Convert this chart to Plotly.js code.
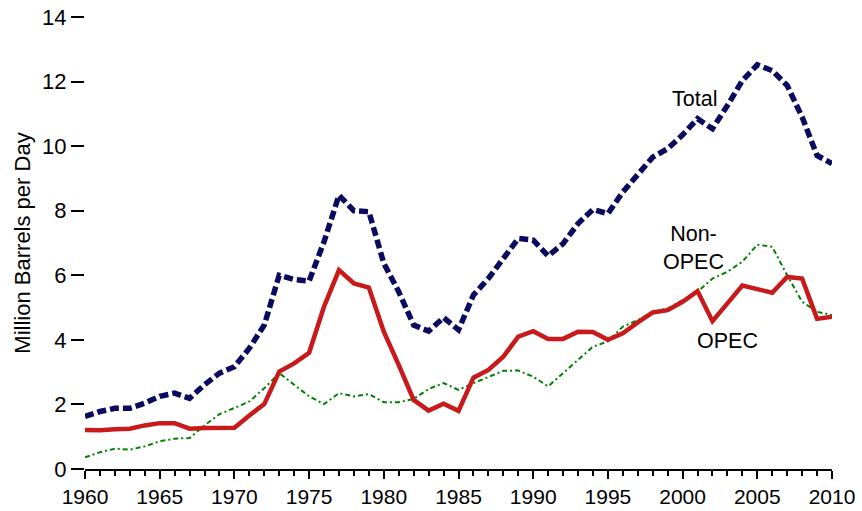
<!DOCTYPE html>
<html>
<head>
<meta charset="utf-8">
<script src="https://cdn.plot.ly/plotly-3.0.1.min.js"></script>
<style>html,body{margin:0;padding:0;background:#fff;}#chart{width:862px;height:511px;}</style>
</head>
<body>
<div id="chart"></div>
<script>
const years = [1960,1961,1962,1963,1964,1965,1966,1967,1968,1969,1970,1971,1972,1973,1974,1975,1976,1977,1978,1979,1980,1981,1982,1983,1984,1985,1986,1987,1988,1989,1990,1991,1992,1993,1994,1995,1996,1997,1998,1999,2000,2001,2002,2003,2004,2005,2006,2007,2008,2009,2010];
const opec = [1.21,1.20,1.23,1.25,1.35,1.42,1.42,1.25,1.27,1.28,1.28,1.66,2.01,3.02,3.27,3.60,5.03,6.16,5.75,5.62,4.25,3.22,2.14,1.81,2.02,1.80,2.83,3.07,3.48,4.10,4.27,4.03,4.03,4.25,4.24,4.00,4.20,4.54,4.85,4.92,5.18,5.51,4.58,5.13,5.68,5.57,5.46,5.95,5.90,4.65,4.72];
const nonOpec = [0.36,0.52,0.63,0.60,0.70,0.86,0.94,0.96,1.35,1.70,1.89,2.09,2.50,2.97,2.61,2.25,2.01,2.35,2.25,2.32,2.07,2.07,2.17,2.48,2.66,2.45,2.66,2.86,3.04,3.05,2.86,2.56,2.97,3.38,3.79,3.95,4.41,4.61,4.87,4.97,5.23,5.49,5.90,6.11,6.42,6.95,6.88,6.00,5.18,4.87,4.77];
const total = [1.63,1.78,1.88,1.88,2.04,2.25,2.35,2.19,2.61,2.97,3.17,3.74,4.46,6.00,5.87,5.82,7.04,8.48,8.00,7.97,6.37,5.49,4.46,4.27,4.69,4.31,5.39,5.90,6.52,7.14,7.09,6.60,6.98,7.60,8.04,7.91,8.58,9.15,9.66,9.92,10.35,10.85,10.54,11.26,12.03,12.52,12.34,11.88,10.90,9.71,9.46];
const xTicks = [1960,1965,1970,1975,1980,1985,1990,1995,2000,2005,2010];
const yTicks = [0,2,4,6,8,10,12,14];

const font = "Liberation Sans, Arial, sans-serif";
const traces = [
  {x: years, y: nonOpec, mode: 'lines', name: 'Non-OPEC',
   line: {color: '#008000', width: 2, dash: '5px,3px,2px,3px'}},
  {x: years, y: opec, mode: 'lines', name: 'OPEC',
   line: {color: '#c81a1a', width: 4.5}},
  {x: years, y: total, mode: 'lines', name: 'Total',
   line: {color: '#0a0a5e', width: 5.5, dash: '9px,4px'}}
];
const layout = {
  width: 862, height: 511,
  margin: {l: 85, r: 30, t: 17, b: 42},
  paper_bgcolor: '#fff', plot_bgcolor: '#fff',
  showlegend: false,
  font: {family: font, size: 21, color: '#000'},
  xaxis: {range: [1960, 2010], tickvals: xTicks, ticktext: xTicks.map(String),
          showgrid: false, zeroline: false, showline: true, linecolor: '#000', linewidth: 2,
          ticks: 'outside', ticklen: 8, tickwidth: 2, tickcolor: '#000',
          minor: {dtick: 1, tick0: 1960, ticks: 'outside', ticklen: 5, tickwidth: 2, tickcolor: '#000', showgrid: false},
          tickfont: {size: 21}},
  yaxis: {range: [0, 14], tickvals: yTicks, ticktext: yTicks.map(String),
          showgrid: false, zeroline: false, showline: false,
          ticks: 'outside', ticklen: 13, tickwidth: 2, tickcolor: '#000',
          tickfont: {size: 22},
          title: {text: 'Million Barrels per Day', font: {size: 22}, standoff: 5}},
  annotations: [
    {x: 2000.8, y: 11.45, text: 'Total', showarrow: false, font: {size: 21.5}},
    {x: 2000.7, y: 6.85, text: 'Non-<br>OPEC', showarrow: false, font: {size: 21.5}},
    {x: 2003.0, y: 3.95, text: 'OPEC', showarrow: false, font: {size: 21.5}}
  ]
};
Plotly.newPlot('chart', traces, layout, {displayModeBar: false, staticPlot: true});
</script>
</body>
</html>
